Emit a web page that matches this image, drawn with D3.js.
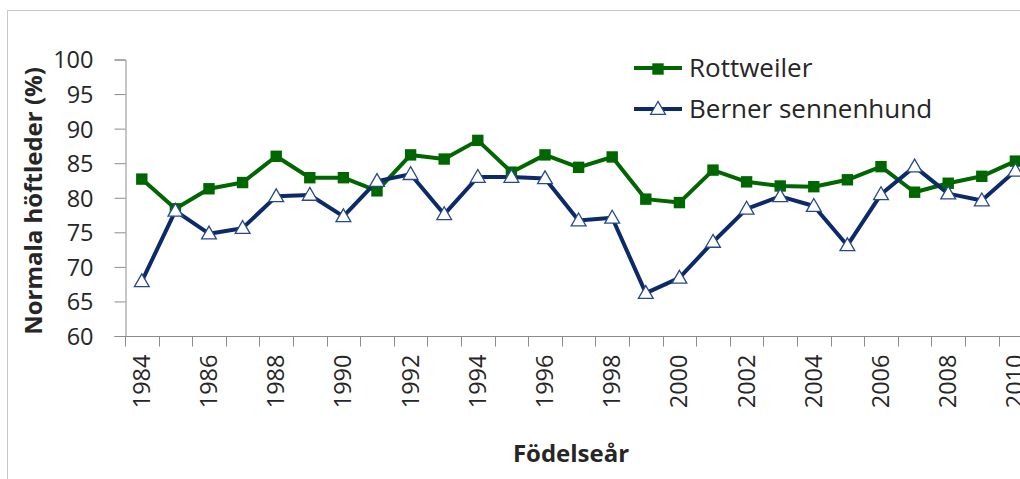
<!DOCTYPE html>
<html>
<head>
<meta charset="utf-8">
<script src="https://cdn.jsdelivr.net/npm/d3@7"></script>
<style>
    body { margin: 0; background: #fff; }
    svg { display: block; font-family: "Open Sans", sans-serif; }
</style>
</head>
<body>
<div id="chartDiv"></div>
<script>
// data
var years = [1984, 1985, 1986, 1987, 1988, 1989, 1990, 1991, 1992, 1993, 1994, 1995, 1996, 1997,
    1998, 1999, 2000, 2001, 2002, 2003, 2004, 2005, 2006, 2007, 2008, 2009, 2010];
var rottweiler = [82.7, 78.4, 81.3, 82.2, 86.0, 82.9, 82.9, 81.0, 86.2, 85.6, 88.3, 83.7, 86.2, 84.4,
    85.9, 79.8, 79.3, 84.0, 82.3, 81.7, 81.6, 82.6, 84.5, 80.8, 82.1, 83.1, 85.3];
var berner = [67.9, 78.1, 74.8, 75.6, 80.2, 80.4, 77.3, 82.4, 83.4, 77.6, 83.0, 83.0, 82.8, 76.7,
    77.1, 66.2, 68.4, 73.6, 78.4, 80.2, 78.8, 73.1, 80.5, 84.5, 80.6, 79.6, 83.9];
var yTicks = [60, 65, 70, 75, 80, 85, 90, 95, 100];
var seriesNames = ['Rottweiler', 'Berner sennenhund'];

var width = 1020,
    height = 479;
var green = '#006600',
    navy = '#0c2a6a',
    axisGray = '#8c8c8c';

var svg = d3.select('#chartDiv').append('svg')
    .attr('width', width)
    .attr('height', height);

// chart border (runs off the right / bottom edge like the original crop)
svg.append('rect')
    .attr('x', 7.5).attr('y', 10.5)
    .attr('width', 1100).attr('height', 600)
    .attr('fill', 'none')
    .attr('stroke', '#c8c8c8');

/////////////////////////////////////////////////
////////////////// scales ///////////////////////
/////////////////////////////////////////////////
var x = d3.scaleBand()
    .domain(years)
    .range([125, 125 + years.length * 33.6]);

var y = d3.scaleLinear()
    .domain([60, 100])
    .range([336, 59.5]);

/////////////////////////////////////////////////
////////////////// axes /////////////////////////
/////////////////////////////////////////////////
var yAxis = svg.append('g')
    .attr('transform', 'translate(125.5,0)')
    .call(d3.axisLeft(y).tickValues(yTicks).tickSize(11).tickPadding(21));

// x ticks sit between the categories, excel style
var xAxis = svg.append('g')
    .attr('transform', 'translate(0,336.5)');
xAxis.append('line')
    .attr('x1', 125).attr('x2', width + 20)
    .attr('y1', 0).attr('y2', 0);
xAxis.selectAll('line.tick')
    .data(years.concat([null]))
    .enter()
    .append('line')
    .attr('class', 'tick')
    .attr('x1', function (d, i) { return Math.round(x.range()[0] + i * x.step()) + 0.5; })
    .attr('x2', function (d, i) { return Math.round(x.range()[0] + i * x.step()) + 0.5; })
    .attr('y1', 0).attr('y2', 10);
xAxis.selectAll('text')
    .data(years.filter(function (d, i) { return i % 2 === 0; }))
    .enter()
    .append('text')
    .attr('transform', function (d) {
        return 'translate(' + (x(d) + x.bandwidth() / 2 + 8) + ',18) rotate(-90)';
    })
    .attr('text-anchor', 'end')
    .text(function (d) { return d; });

[yAxis, xAxis].forEach(function (g) {
    g.select('.domain').attr('stroke', axisGray);
    g.selectAll('line').attr('stroke', axisGray);
    g.selectAll('text')
        .attr('fill', '#262626')
        .style('font-size', '23.5px')
        .style('font-family', '"Open Sans", sans-serif');
});
yAxis.selectAll('text').attr('dy', '0.36em');

/////////////////////////////////////////////////
////////////////// titles ///////////////////////
/////////////////////////////////////////////////
svg.append('text')
    .attr('transform', 'translate(42,201) rotate(-90)')
    .attr('text-anchor', 'middle')
    .style('font-size', '24px')
    .style('font-weight', 'bold')
    .attr('fill', '#262626')
    .text('Normala höftleder (%)');

svg.append('text')
    .attr('x', 571).attr('y', 462)
    .attr('text-anchor', 'middle')
    .style('font-size', '24px')
    .style('font-weight', 'bold')
    .attr('fill', '#262626')
    .text('Födelseår');

/////////////////////////////////////////////////
////////////////// lines ////////////////////////
/////////////////////////////////////////////////
function cx(i) {
    return x(years[i]) + x.bandwidth() / 2;
}

var line = d3.line()
    .x(function (d, i) { return cx(i); })
    .y(function (d) { return y(d); });

svg.append('path')
    .datum(rottweiler)
    .attr('d', line)
    .attr('fill', 'none')
    .attr('stroke', green)
    .attr('stroke-width', 4)
    .attr('stroke-linejoin', 'round');

svg.append('path')
    .datum(berner)
    .attr('d', line)
    .attr('fill', 'none')
    .attr('stroke', navy)
    .attr('stroke-width', 4)
    .attr('stroke-linejoin', 'round');

var square = d3.symbol().type(d3.symbolSquare).size(130);
var triangle = d3.symbol().type(d3.symbolTriangle).size(95);

svg.selectAll('path.rott')
    .data(rottweiler)
    .enter()
    .append('path')
    .attr('class', 'rott')
    .attr('d', square)
    .attr('transform', function (d, i) { return 'translate(' + cx(i) + ',' + y(d) + ')'; })
    .attr('fill', green);

svg.selectAll('path.berner')
    .data(berner)
    .enter()
    .append('path')
    .attr('class', 'berner')
    .attr('d', triangle)
    .attr('transform', function (d, i) { return 'translate(' + cx(i) + ',' + (y(d) + 1) + ')'; })
    .attr('fill', '#fff')
    .attr('stroke', '#27488f')
    .attr('stroke-width', 1.3);

/////////////////////////////////////////////////
////////////////// legend ///////////////////////
/////////////////////////////////////////////////
var legend = svg.selectAll('g.legend')
    .data(seriesNames)
    .enter()
    .append('g')
    .attr('class', 'legend')
    .attr('transform', function (d, i) { return 'translate(634,' + (68 + i * 41) + ')'; });

legend.append('line')
    .attr('x1', 0).attr('x2', 48)
    .attr('stroke', function (d, i) { return i === 0 ? green : navy; })
    .attr('stroke-width', 4);

legend.append('path')
    .attr('d', function (d, i) { return i === 0 ? square() : triangle(); })
    .attr('transform', 'translate(24,1)')
    .attr('fill', function (d, i) { return i === 0 ? green : '#fff'; })
    .attr('stroke', function (d, i) { return i === 0 ? 'none' : '#27488f'; })
    .attr('stroke-width', 1.3);

legend.append('text')
    .attr('x', 55).attr('dy', '0.35em')
    .style('font-size', '26px')
    .attr('fill', '#262626')
    .text(function (d) { return d; });
</script>
</body>
</html>
